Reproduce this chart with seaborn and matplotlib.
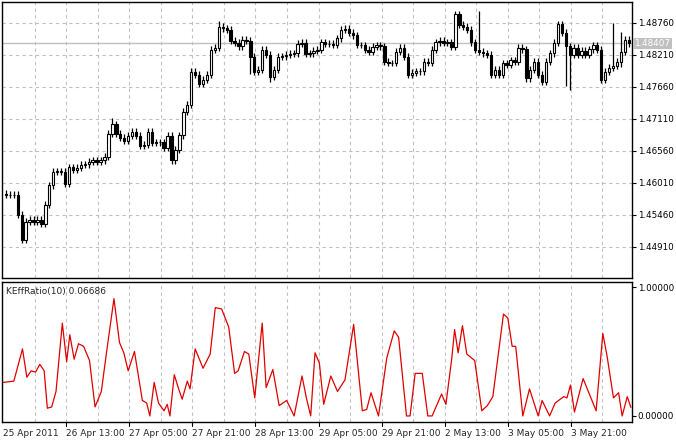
import matplotlib
matplotlib.use("Agg")
import matplotlib.pyplot as plt
import matplotlib.transforms as mtrans
import seaborn as sns
import numpy as np
import pandas as pd

closes = [1.4580,1.4580,1.4580,1.4546,1.4503,1.4534,1.4537,1.4534,1.4537,1.4530,
          1.4563,1.4597,1.4620,1.4620,1.4620,1.4599,1.4628,1.4623,1.4627,1.4632,
          1.4633,1.4637,1.4640,1.4637,1.4640,1.4646,1.4685,1.4702,1.4685,1.4678,
          1.4673,1.4682,1.4689,1.4682,1.4665,1.4666,1.4689,1.4670,1.4671,1.4671,
          1.4661,1.4682,1.4640,1.4658,1.4683,1.4723,1.4735,1.4792,1.4787,1.4771,
          1.4778,1.4787,1.4830,1.4833,1.4869,1.4867,1.4864,1.4845,1.4842,1.4836,
          1.4847,1.4845,1.4818,1.4792,1.4795,1.4830,1.4821,1.4783,1.4795,1.4818,
          1.4819,1.4821,1.4823,1.4824,1.4840,1.4842,1.4823,1.4824,1.4828,1.4830,
          1.4843,1.4840,1.4840,1.4838,
          1.4850,1.4864,1.4866,1.4859,1.4855,1.4838,1.4838,1.4830,1.4826,1.4835,
          1.4838,1.4836,1.4809,1.4807,1.4807,1.4826,1.4833,1.4818,1.4787,1.4790,
          1.4793,1.4793,1.4809,1.4807,1.4830,1.4843,1.4845,1.4842,1.4843,1.4835,
          1.4891,1.4873,1.4869,1.4864,1.4843,1.4830,1.4826,1.4824,1.4821,1.4787,
          1.4795,1.4787,1.4807,1.4804,1.4812,1.4809,1.4833,1.4831,1.4781,1.4795,
          1.4809,1.4787,1.4775,1.4809,1.4824,1.4842,1.4874,1.4859,1.4836,1.4821,
          1.4833,1.4821,1.4828,1.4821,1.4831,1.4838,1.4830,1.4778,1.4792,1.4799,
          1.4802,1.4809,1.4826,1.4847,1.4841]
first_open = 1.4582
# notable long wicks: index -> (high, low)
long_wicks = {4: (1.4540, 1.4497), 27: (1.4712, 1.4680), 45: (1.4730, 1.4690),
              54: (1.4880, 1.4830), 55: (1.4873, 1.4860), 62: (1.4850, 1.4788),
              67: (1.4820, 1.4775), 120: (1.4896, 1.4838), 143: (1.4812, 1.4760),
              154: (1.4876, 1.4836), 156: (1.4860, 1.4800), 142: (1.4800, 1.4768)}

kr_x = [-0.7,2.0,4.2,5.3,6.4,7.5,8.6,9.7,10.5,11.6,12.7,14.3,15.4,16.2,17.3,18.4,19.7,21.2,22.6,24.2,
        25.5,27.4,28.8,29.9,31.0,32.6,34.6,35.7,36.5,37.6,38.7,40.1,40.9,41.6,42.7,43.8,44.7,46.0,46.7,48.0,
        50.0,51.8,53.1,54.7,56.5,58.0,58.9,60.5,61.6,63.1,65.0,66.0,67.7,69.3,71.2,73.1,75.1,76.2,77.3,78.4,
        79.5,80.6,82.4,84.1,86.0,88.2,90.4,91.5,92.6,94.5,96.6,98.5,99.6,101.6,102.5,103.8,105.6,107.0,108.1,110.5,
        111.6,113.1,113.8,114.7,115.8,116.9,118.9,120.7,122.1,123.5,126.2,127.3,128.4,129.3,131.1,132.8,135.0,136.0,137.9,139.3,
        141.5,142.3,143.2,144.2,146.4,149.7,151.4,152.5,154.1,155.4,156.3,157.6,158.5]
kr_v = [.26,.27,.52,.30,.35,.34,.40,.35,.06,.07,.19,.72,.42,.63,.44,.56,.54,.43,.07,.19,
        .49,.91,.57,.49,.35,.50,.12,.10,.0,.26,.10,.04,.09,.0,.32,.21,.13,.27,.21,.52,
        .37,.48,.84,.83,.69,.33,.35,.50,.48,.14,.72,.22,.36,.08,.12,.0,.31,.14,.0,.49,
        .41,.09,.31,.19,.28,.71,.04,.05,.18,.0,.45,.66,.61,.0,.0,.33,.33,.0,.0,.17,
        .09,.45,.67,.49,.70,.48,.43,.04,.08,.15,.79,.76,.54,.54,.0,.21,.0,.12,.0,.10,
        .15,.14,.24,.03,.29,.04,.64,.46,.14,.18,.0,.15,.067]

date_labels = ["25 Apr 2011","26 Apr 13:00","27 Apr 05:00","27 Apr 21:00","28 Apr 13:00",
               "29 Apr 05:00","29 Apr 21:00","2 May 13:00","3 May 05:00","3 May 21:00"]
price_ticks = [1.44910,1.45460,1.46010,1.46560,1.47110,1.47660,1.48210,1.48760]
last_price = 1.48407

sns.set_style("white")
plt.rcParams['font.family'] = ['DejaVu Sans']

n = len(closes)
idx = np.arange(n)
opens = [first_open] + closes[:-1]
df = pd.DataFrame({"i": idx, "open": opens, "close": closes})
df["high"] = df[["open", "close"]].max(axis=1) + 0.0006
df["low"] = df[["open", "close"]].min(axis=1) - 0.0006
for k, (h, l) in long_wicks.items():
    df.loc[k, "high"] = max(h, df.loc[k, "high"])
    df.loc[k, "low"] = min(l, df.loc[k, "low"])

fig = plt.figure(figsize=(6.76, 4.43), dpi=100)
ax = fig.add_axes([2/676, 1-278/443, 630/676, 276/443])
ax2 = fig.add_axes([2/676, 1-422/443, 630/676, 140/443])

xlim = (-1.0, n - 0.2)
grid_x = [-0.7 + 8.0 * k for k in range(20)]

for a in (ax, ax2):
    a.set_xlim(*xlim)
    for gx in grid_x[1:]:
        a.axvline(gx, color="#c0c0c0", lw=0.8, ls=(0, (3, 3)), zorder=0)
    a.set_xticks([])
    a.yaxis.tick_right()
    a.tick_params(axis="y", direction="out", length=3, width=0.8, labelsize=6.3, pad=1, colors="black")
    for s in a.spines.values():
        s.set_color("black"); s.set_linewidth(1)

ax.set_ylim(1.4437, 1.4912)
ax.set_yticks(price_ticks)
ax.set_yticklabels([f"{p:.5f}" for p in price_ticks])
for p in price_ticks:
    ax.axhline(p, color="#c0c0c0", lw=0.8, ls=(0, (3, 3)), zorder=0)
ax.axhline(last_price, color="#c0c0c0", lw=1, zorder=1)
ax.text(1.004, last_price, f"{last_price:.5f}", transform=mtrans.blended_transform_factory(ax.transAxes, ax.transData),
        ha="left", va="center", fontsize=6.3, color="white",
        bbox=dict(boxstyle="square,pad=0.15", fc="#c0c0c0", ec="none"))

for _, r in df.iterrows():
    ax.vlines(r.i, r.low, r.high, color="black", lw=0.9, zorder=2)
    bull = r.close >= r.open
    bottom = min(r.open, r.close)
    h = max(abs(r.close - r.open), 0.00005)
    ax.bar(r.i, h, bottom=bottom, width=0.6, color="white" if bull else "black",
           edgecolor="black", lw=0.8, zorder=3)

ax2.set_ylim(-0.047, 1.039)
ax2.set_yticks([0.0, 1.0])
ax2.set_yticklabels(["0.00000", "1.00000"])
sns.lineplot(x=kr_x, y=kr_v, ax=ax2, color="#e00000", lw=0.9, estimator=None, sort=False)
ax2.set_xlim(*xlim)
ax2.set_xlabel(""); ax2.set_ylabel("")
ax2.text(0.006, 0.965, "KEffRatio(10) 0.06686", transform=ax2.transAxes, fontsize=6.5, va="top", ha="left")

tr = mtrans.blended_transform_factory(ax2.transData, fig.transFigure)
for j, lab in enumerate(date_labels):
    gx = grid_x[2 * j]
    if j == 0:
        gx = -0.8
    ax2.text(gx, 1-434/443, lab, transform=tr, fontsize=6.5, ha="left", va="center")
    if j > 0:
        ax2.plot([gx, gx], [-0.047, -0.08], color="black", lw=0.8, clip_on=False)

fig.savefig("out.png", dpi=100)
